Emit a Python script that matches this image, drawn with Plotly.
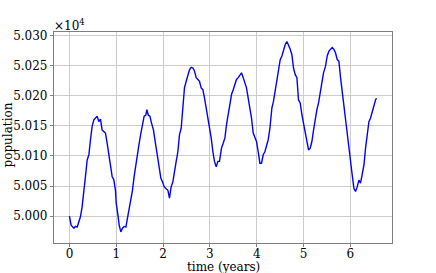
import plotly.graph_objects as go

time_years = [0.000, 0.036, 0.094, 0.128, 0.165, 0.201, 0.235, 0.271, 0.308, 0.342, 0.378, 0.415, 0.449, 0.485,
              0.521, 0.556, 0.592, 0.628, 0.662, 0.699, 0.735, 0.769, 0.806, 0.842, 0.876, 0.912, 0.949, 0.983,
              0.998, 1.019, 1.041, 1.062, 1.098, 1.132, 1.169, 1.205, 1.239, 1.276, 1.312, 1.346, 1.382, 1.419,
              1.453, 1.489, 1.526, 1.560, 1.596, 1.632, 1.654, 1.682, 1.718, 1.752, 1.795, 1.825, 1.859, 1.895,
              1.917, 1.953, 1.987, 2.024, 2.060, 2.103, 2.137, 2.173, 2.209, 2.244, 2.280, 2.316, 2.350, 2.387,
              2.423, 2.457, 2.494, 2.530, 2.564, 2.600, 2.637, 2.671, 2.707, 2.744, 2.778, 2.814, 2.850, 2.885,
              2.921, 2.957, 2.991, 3.028, 3.064, 3.098, 3.135, 3.171, 3.205, 3.248, 3.284, 3.321, 3.355, 3.391,
              3.427, 3.462, 3.498, 3.534, 3.568, 3.605, 3.641, 3.675, 3.712, 3.748, 3.782, 3.818, 3.855, 3.889,
              3.925, 3.962, 3.996, 4.032, 4.068, 4.103, 4.139, 4.175, 4.209, 4.246, 4.282, 4.325, 4.359, 4.395,
              4.432, 4.466, 4.502, 4.538, 4.573, 4.609, 4.645, 4.679, 4.716, 4.752, 4.786, 4.823, 4.859, 4.893,
              4.929, 4.966, 5.000, 5.036, 5.073, 5.107, 5.143, 5.179, 5.214, 5.250, 5.286, 5.321, 5.357, 5.393,
              5.427, 5.470, 5.506, 5.543, 5.577, 5.613, 5.650, 5.684, 5.720, 5.756, 5.791, 5.827, 5.863, 5.897,
              5.934, 5.970, 6.004, 6.041, 6.077, 6.111, 6.147, 6.184, 6.218, 6.254, 6.291, 6.325, 6.361, 6.397,
              6.432, 6.468, 6.504, 6.538, 6.560]

population = [50000, 49985, 49980, 49983, 49982, 49993, 49999, 50016, 50038, 50066, 50093, 50102, 50127, 50149,
              50160, 50163, 50166, 50157, 50161, 50143, 50141, 50138, 50121, 50102, 50082, 50066, 50060, 50043,
              50022, 50005, 49999, 49985, 49974, 49980, 49983, 49982, 49996, 50016, 50027, 50043, 50066, 50088,
              50099, 50121, 50138, 50152, 50166, 50168, 50177, 50168, 50166, 50155, 50143, 50127, 50110, 50096,
              50082, 50063, 50057, 50049, 50046, 50043, 50030, 50049, 50057, 50071, 50091, 50107, 50135, 50146,
              50180, 50213, 50224, 50235, 50243, 50247, 50246, 50241, 50230, 50227, 50224, 50213, 50210, 50196,
              50180, 50168, 50152, 50130, 50107, 50091, 50082, 50091, 50091, 50113, 50121, 50130, 50152, 50168,
              50188, 50202, 50210, 50221, 50227, 50230, 50235, 50238, 50230, 50221, 50213, 50196, 50180, 50163,
              50138, 50132, 50124, 50107, 50088, 50088, 50102, 50107, 50118, 50127, 50146, 50180, 50191, 50207,
              50224, 50241, 50260, 50266, 50277, 50285, 50290, 50285, 50277, 50268, 50246, 50235, 50230, 50193,
              50188, 50168, 50155, 50138, 50124, 50110, 50113, 50124, 50143, 50163, 50177, 50188, 50205, 50221,
              50238, 50249, 50266, 50274, 50277, 50280, 50277, 50271, 50260, 50257, 50230, 50205, 50191, 50157,
              50135, 50113, 50093, 50068, 50046, 50041, 50049, 50060, 50055, 50071, 50085, 50113, 50141, 50157,
              50163, 50174, 50182, 50193, 50196]

x_ticks = [0, 1, 2, 3, 4, 5, 6]
y_ticks = [50000, 50050, 50100, 50150, 50200, 50250, 50300]
y_tick_labels = ["5.000", "5.005", "5.010", "5.015", "5.020", "5.025", "5.030"]

FONT = "DejaVu Serif"
SPINE = "#7f7f7f"
GRID = "#cccccc"

fig = go.Figure()
fig.add_trace(go.Scatter(x=time_years, y=population, mode="lines",
                         line=dict(color="#0000ff", width=1.4), showlegend=False))

fig.update_layout(
    width=436, height=273,
    margin=dict(l=54, r=44, t=32, b=30, pad=0),
    paper_bgcolor="white", plot_bgcolor="white",
    font=dict(family=FONT, size=12, color="black"),
    xaxis=dict(range=[-0.33, 6.89], tickvals=x_ticks, showgrid=True, gridcolor=GRID, gridwidth=1,
               showline=True, linecolor=SPINE, linewidth=1.2, mirror=True, automargin=False,
               ticks="outside", ticklen=3, tickcolor=SPINE, zeroline=False,
               ticklabelstandoff=-4,
               tickfont=dict(family=FONT, size=12)),
    yaxis=dict(range=[49955.5, 50305.8], tickvals=y_ticks, ticktext=y_tick_labels,
               showgrid=True, gridcolor=GRID, gridwidth=1,
               showline=True, linecolor=SPINE, linewidth=1.2, mirror=True, automargin=False,
               ticks="outside", ticklen=3, tickcolor=SPINE, zeroline=False,
               tickfont=dict(family=FONT, size=12)),
    annotations=[
        dict(text="×10<sup>4</sup>", xref="paper", yref="paper", x=0, y=1,
             xanchor="left", yanchor="bottom", showarrow=False,
             font=dict(family=FONT, size=12), xshift=-2, yshift=-3),
        dict(text="time (years)", xref="paper", yref="paper", x=0.5, y=0,
             xanchor="center", yanchor="top", showarrow=False,
             font=dict(family=FONT, size=12), yshift=-15),
        dict(text="population", xref="paper", yref="paper", x=0, y=0.5,
             xanchor="center", yanchor="middle", showarrow=False, textangle=-90,
             font=dict(family=FONT, size=12), xshift=-47, yshift=2),
    ],
)

fig.write_html("out.html", config={"displayModeBar": False},
               post_script="document.body.style.margin='0';")
